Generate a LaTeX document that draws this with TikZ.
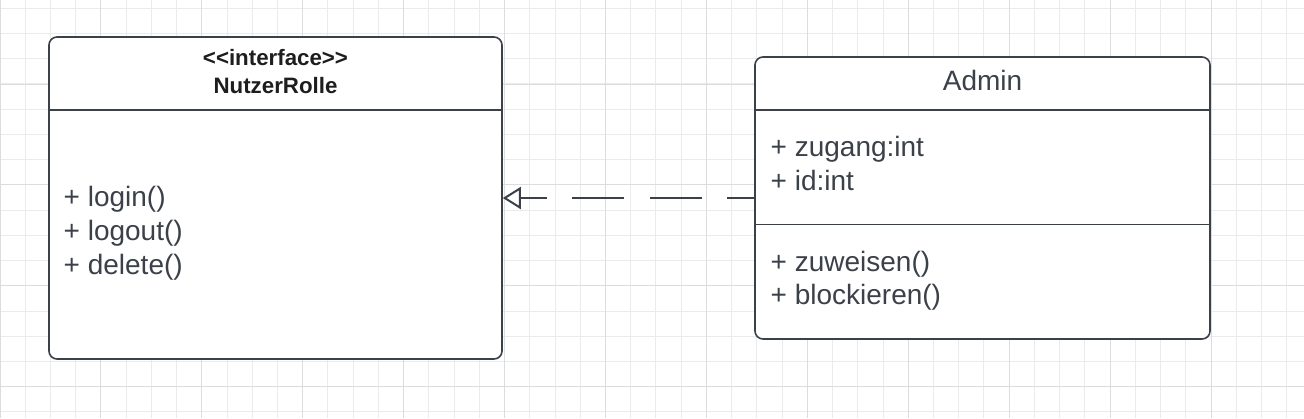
\documentclass[tikz,border=0pt]{standalone}
\usepackage{fontspec}
\setmainfont{Liberation Sans}
\usetikzlibrary{arrows.meta}
\definecolor{ink}{HTML}{3A414A}
\definecolor{gridminor}{HTML}{EBEBEB}
\definecolor{gridmajor}{HTML}{DCDCDC}
\definecolor{titleink}{HTML}{1E1E1E}
\begin{document}
\begin{tikzpicture}[x=1bp,y=-1bp,
  umlbox/.style={draw=ink, line width=1.6bp, rounded corners=8bp, fill=white, inner sep=0pt},
  sepline/.style={draw=ink, line width=1.6bp},
  member/.style={anchor=base west, inner sep=0pt, text=ink, font=\fontsize{28bp}{34bp}\selectfont},
  classname/.style={anchor=base, inner sep=0pt, text=ink, font=\fontsize{28bp}{34bp}\selectfont},
  ifacetitle/.style={anchor=base, inner sep=0pt, text=titleink, font=\fontsize{22.3bp}{27bp}\selectfont\bfseries},
  realize/.style={draw=ink, line width=2bp, dash pattern=on 52bp off 25.5bp, dash phase=25bp,
    -{Triangle[open, length=18bp, width=22bp, line width=2bp]}},
  minorgrid/.style={draw=gridminor, line width=1bp},
  majorgrid/.style={draw=gridmajor, line width=1bp}
]
\useasboundingbox (0,0) rectangle (1304,418);
\fill[white] (0,0) rectangle (1304,418);
% grid
\foreach \k in {0,...,51} \draw[minorgrid] ({25.23*\k},0) -- ({25.23*\k},418);
\foreach \k in {0,...,16} \draw[minorgrid] (0,{8.3+25.23*\k}) -- (1304,{8.3+25.23*\k});
\foreach \k in {0,...,12} \draw[majorgrid] ({100.92*\k},0) -- ({100.92*\k},418);
\foreach \k in {0,...,3} \draw[majorgrid] (0,{84+100.92*\k}) -- (1304,{84+100.92*\k});
% interface box
\node[umlbox, minimum width=453bp, minimum height=322bp] (nr) at (275.5,198) {};
\draw[sepline] ([yshift=-74bp]nr.north west) -- ([yshift=-74bp]nr.north east);
\node[ifacetitle] (nrst) at (275.5,65) {<\kern0pt<interface>\kern0pt>};
\node[ifacetitle] (nrname) at (275.5,93.3) {NutzerRolle};
\node[member] (m1) at (63.5,206) {+ login()};
\node[member] (m2) at (63.5,240) {+ logout()};
\node[member] (m3) at (63.5,274) {+ delete()};
% admin box
\node[umlbox, minimum width=455bp, minimum height=282bp] (admin) at (982.5,198) {};
\draw[sepline] ([yshift=-53.7bp]admin.north west) -- ([yshift=-53.7bp]admin.north east);
\draw[sepline] ([yshift=-168.3bp]admin.north west) -- ([yshift=-168.3bp]admin.north east);
\node[classname] (adminname) at (982.5,90.3) {Admin};
\node[member] (a1) at (770.5,156.5) {+ zugang:int};
\node[member] (a2) at (770.5,190) {+ id:int};
\node[member] (a3) at (770.5,271) {+ zuweisen()};
\node[member] (a4) at (770.5,304.5) {+ blockieren()};
% realization
\draw[realize] (admin.west) -- (nr.east);
\end{tikzpicture}
\end{document}
